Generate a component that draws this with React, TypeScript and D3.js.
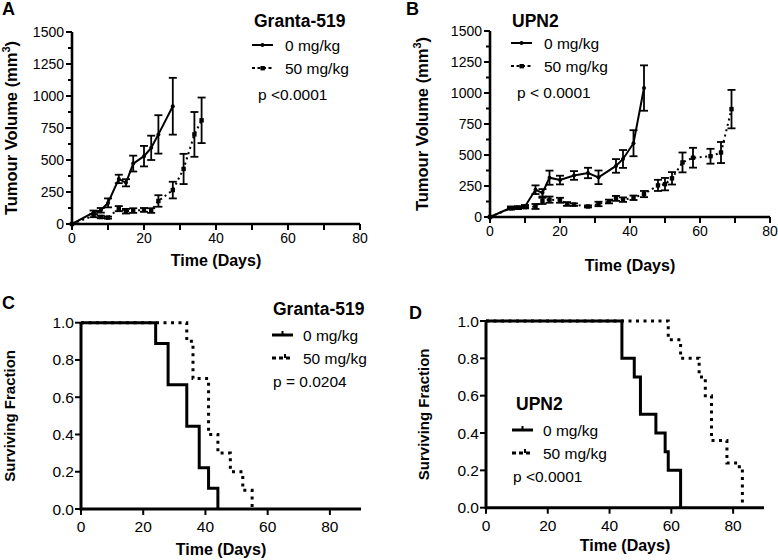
import React from "react";
import * as d3 from "d3";

// ---------- Data ----------
// Panel A: Granta-519 tumour volume
const gDays0 = [0, 6, 8, 10, 13, 15, 17, 20, 22, 24, 28];
const gMean0 = [0, 90, 107, 165, 352, 322, 472, 530, 595, 700, 920];
const gErr0 = [0, 15, 18, 35, 33, 28, 62, 80, 95, 150, 222];
const gDays50 = [0, 6, 8, 10, 13, 15, 17, 20, 22, 24, 28, 31, 34, 36];
const gMean50 = [0, 65, 55, 50, 120, 100, 105, 110, 105, 180, 265, 430, 700, 810];
const gErr50 = [0, 12, 10, 8, 20, 18, 18, 15, 18, 45, 65, 118, 175, 178];

// Panel B: UPN2 tumour volume
const uDays0 = [0, 6, 8, 10, 13, 15, 17, 20, 24, 28, 31, 36, 38, 41, 44];
const uMean0 = [0, 75, 75, 85, 220, 195, 317, 298, 335, 355, 320, 412, 468, 595, 1040];
const uErr0 = [0, 10, 10, 12, 35, 30, 57, 35, 35, 42, 55, 55, 72, 105, 183];
const uDays50 = [0, 6, 8, 10, 13, 15, 17, 20, 22, 24, 28, 31, 34, 36, 38, 41, 44, 48, 50, 52, 55, 58, 63, 66, 69];
const uMean50 = [0, 70, 75, 80, 85, 130, 140, 135, 105, 100, 85, 105, 125, 150, 140, 155, 185, 255, 265, 312, 440, 478, 490, 520, 870];
const uErr50 = [0, 10, 10, 10, 20, 25, 25, 20, 15, 10, 8, 18, 15, 20, 18, 18, 25, 45, 50, 50, 80, 80, 60, 85, 155];

// Panel C: Granta-519 survival
const cTimes0 = [0, 24, 28, 34, 38, 41, 44];
const cSurv0 = [1, 0.889, 0.667, 0.444, 0.222, 0.111, 0];
const cTimes50 = [0, 34, 36, 41, 44, 48, 52, 55];
const cSurv50 = [1, 0.9, 0.7, 0.4, 0.3, 0.2, 0.1, 0];

// Panel D: UPN2 survival
const dTimes0 = [0, 44, 48, 50, 55, 58, 59, 63];
const dSurv0 = [1, 0.8, 0.7, 0.5, 0.4, 0.3, 0.2, 0];
const dTimes50 = [0, 59, 63, 69, 71, 73, 78, 82, 83];
const dSurv50 = [1, 0.9, 0.8, 0.7, 0.6, 0.36, 0.24, 0.22, 0];

const volTicks = [0, 250, 500, 750, 1000, 1250, 1500];
const volMinor = [125, 375, 625, 875, 1125, 1375];
const dayTicksA = [0, 20, 40, 60, 80];
const dayMinorA = [10, 30, 50, 70];
const survTicks = [0, 0.2, 0.4, 0.6, 0.8, 1.0];
const dayTicksC = [0, 20, 40, 60, 80];

const legend0 = "0 mg/kg";
const legend50 = "50 mg/kg";

const FONT = "Arial, 'Liberation Sans', Helvetica, sans-serif";

type TumourProps = {
  x0: number; x1: number; y0: number; y1: number;
  d0: number[]; m0: number[]; e0: number[];
  d50: number[]; m50: number[]; e50: number[];
  yTitleX: number; xTitleY: number;
};

function TumourPanel(p: TumourProps) {
  const x = d3.scaleLinear().domain([0, 80]).range([p.x0, p.x1]);
  const y = d3.scaleLinear().domain([0, 1500]).range([p.y0, p.y1]);
  const line = d3.line<[number, number]>().x(d => x(d[0])).y(d => y(d[1]));
  const pts0 = p.d0.map((d, i) => [d, p.m0[i]] as [number, number]);
  const pts50 = p.d50.map((d, i) => [d, p.m50[i]] as [number, number]);
  const errBars = (days: number[], m: number[], e: number[], key: string) =>
    days.map((d, i) =>
      e[i] > 0 ? (
        <g key={key + i} stroke="#000" strokeWidth={1.8}>
          <line x1={x(d)} x2={x(d)} y1={y(m[i] - e[i])} y2={y(m[i] + e[i])} />
          <line x1={x(d) - 4} x2={x(d) + 4} y1={y(m[i] + e[i])} y2={y(m[i] + e[i])} />
          <line x1={x(d) - 4} x2={x(d) + 4} y1={y(m[i] - e[i])} y2={y(m[i] - e[i])} />
        </g>
      ) : null
    );
  const cy = (p.y0 + p.y1) / 2;
  return (
    <g>
      <path d={line(pts50) || ""} fill="none" stroke="#000" strokeWidth={2} strokeDasharray="2,3.5" />
      <path d={line(pts0) || ""} fill="none" stroke="#000" strokeWidth={2} />
      {errBars(p.d50, p.m50, p.e50, "b")}
      {errBars(p.d0, p.m0, p.e0, "a")}
      {pts50.map((d, i) => (
        <rect key={"s" + i} x={x(d[0]) - 2.2} y={y(d[1]) - 2.2} width={4.4} height={4.4} fill="#000" />
      ))}
      {pts0.map((d, i) => (
        <circle key={"c" + i} cx={x(d[0])} cy={y(d[1])} r={2} fill="#000" />
      ))}
      {/* axes */}
      <line x1={p.x0} x2={p.x1} y1={p.y0} y2={p.y0} stroke="#000" strokeWidth={2.6} />
      <line x1={p.x0} x2={p.x0} y1={p.y0 + 1.3} y2={p.y1} stroke="#000" strokeWidth={2.6} />
      {volTicks.map(t => (
        <g key={"yt" + t}>
          <line x1={p.x0 - 6} x2={p.x0} y1={y(t)} y2={y(t)} stroke="#000" strokeWidth={2} />
          <text x={p.x0 - 8} y={y(t) + 5} textAnchor="end" fontSize={14} fontFamily={FONT}>{t}</text>
        </g>
      ))}
      {volMinor.map(t => (
        <line key={"ym" + t} x1={p.x0 - 4} x2={p.x0} y1={y(t)} y2={y(t)} stroke="#000" strokeWidth={2} />
      ))}
      {dayTicksA.map(t => (
        <g key={"xt" + t}>
          <line x1={x(t)} x2={x(t)} y1={p.y0} y2={p.y0 + 6} stroke="#000" strokeWidth={2} />
          <text x={x(t)} y={p.y0 + 19} textAnchor="middle" fontSize={14} fontFamily={FONT}>{t}</text>
        </g>
      ))}
      {dayMinorA.map(t => (
        <line key={"xm" + t} x1={x(t)} x2={x(t)} y1={p.y0} y2={p.y0 + 6} stroke="#000" strokeWidth={2} />
      ))}
      <text transform={`translate(${p.yTitleX},${cy}) rotate(-90)`} textAnchor="middle" fontSize={16.5} fontWeight="bold" fontFamily={FONT}>
        Tumour Volume (mm<tspan dy={-7} fontSize={11}>3</tspan><tspan dy={7}>)</tspan>
      </text>
      <text x={(p.x0 + p.x1) / 2} y={p.xTitleY} textAnchor="middle" fontSize={16} fontWeight="bold" fontFamily={FONT}>Time (Days)</text>
    </g>
  );
}

type SurvProps = {
  x0: number; x1: number; y0: number; y1: number;
  t0: number[]; s0: number[]; t50: number[]; s50: number[];
  yTitleX: number; xTitleY: number;
};

function SurvPanel(p: SurvProps) {
  const x = d3.scaleLinear().domain([0, 90]).range([p.x0, p.x1]);
  const y = d3.scaleLinear().domain([0, 1]).range([p.y0, p.y1]);
  const line = d3.line<[number, number]>().x(d => x(d[0])).y(d => y(d[1])).curve(d3.curveStepAfter);
  const pts0 = p.t0.map((t, i) => [t, p.s0[i]] as [number, number]);
  const pts50 = p.t50.map((t, i) => [t, p.s50[i]] as [number, number]);
  const cy = (p.y0 + p.y1) / 2;
  return (
    <g>
      <path d={line(pts50) || ""} fill="none" stroke="#000" strokeWidth={3} strokeDasharray="3,4.5" />
      <path d={line(pts0) || ""} fill="none" stroke="#000" strokeWidth={3} />
      <line x1={p.x0} x2={p.x1} y1={p.y0} y2={p.y0} stroke="#000" strokeWidth={3} />
      <line x1={p.x0} x2={p.x0} y1={p.y0 + 1.5} y2={p.y1} stroke="#000" strokeWidth={3} />
      {survTicks.map(t => (
        <g key={"yt" + t}>
          <line x1={p.x0 - 6} x2={p.x0} y1={y(t)} y2={y(t)} stroke="#000" strokeWidth={2} />
          <text x={p.x0 - 7} y={y(t) + 5.5} textAnchor="end" fontSize={15.5} fontFamily={FONT}>{t.toFixed(1)}</text>
        </g>
      ))}
      {dayTicksC.map(t => (
        <g key={"xt" + t}>
          <line x1={x(t)} x2={x(t)} y1={p.y0} y2={p.y0 + 6} stroke="#000" strokeWidth={2} />
          <text x={x(t)} y={p.y0 + 23} textAnchor="middle" fontSize={15.5} fontFamily={FONT}>{t}</text>
        </g>
      ))}
      <text transform={`translate(${p.yTitleX},${cy}) rotate(-90)`} textAnchor="middle" fontSize={15} fontWeight="bold" fontFamily={FONT}>
        Surviving Fraction
      </text>
      <text x={(p.x0 + p.x1) / 2} y={p.xTitleY} textAnchor="middle" fontSize={16} fontWeight="bold" fontFamily={FONT}>Time (Days)</text>
    </g>
  );
}

function TumourLegend({ x, y, title, p, tx, ty }: { x: number; y: number; title: string; p: string; tx: number; ty: number }) {
  return (
    <g fontFamily={FONT}>
      <text x={tx} y={ty} fontSize={17.5} fontWeight="bold">{title}</text>
      <line x1={x} x2={x + 21} y1={y} y2={y} stroke="#000" strokeWidth={2} />
      <circle cx={x + 10.5} cy={y} r={2} fill="#000" />
      <text x={x + 33} y={y + 5.5} fontSize={15.5}>{legend0}</text>
      <line x1={x} x2={x + 21} y1={y + 23} y2={y + 23} stroke="#000" strokeWidth={2} strokeDasharray="3,2.5" />
      <rect x={x + 8.5} y={y + 21} width={4.4} height={4.4} fill="#000" />
      <text x={x + 33} y={y + 28.5} fontSize={15.5}>{legend50}</text>
      <text x={x + 6} y={y + 55} fontSize={15.5}>{p}</text>
    </g>
  );
}

function SurvLegend({ x, y, title, p, tx, ty, px }: { x: number; y: number; title: string; p: string; tx: number; ty: number; px: number }) {
  return (
    <g fontFamily={FONT}>
      <text x={tx} y={ty} fontSize={17.5} fontWeight="bold">{title}</text>
      <line x1={x} x2={x + 21} y1={y} y2={y} stroke="#000" strokeWidth={3} />
      <line x1={x + 10.5} x2={x + 10.5} y1={y} y2={y - 4} stroke="#000" strokeWidth={2} />
      <text x={x + 31} y={y + 6} fontSize={15.5}>{legend0}</text>
      <line x1={x} x2={x + 21} y1={y + 23} y2={y + 23} stroke="#000" strokeWidth={3} strokeDasharray="4,3" />
      <line x1={x + 13} x2={x + 13} y1={y + 23} y2={y + 19} stroke="#000" strokeWidth={2} />
      <text x={x + 31} y={y + 29} fontSize={15.5}>{legend50}</text>
      <text x={px} y={y + 52} fontSize={15.5}>{p}</text>
    </g>
  );
}

export default function App() {
  return (
    <svg width={778} height={560} style={{ position: "absolute", left: 0, top: 0, background: "#fff" }}>
      <rect width={778} height={560} fill="#fff" />
      <g fontFamily={FONT} fontWeight="bold" fontSize={18}>
        <text x={2} y={15}>A</text>
        <text x={406} y={15}>B</text>
        <text x={2} y={309}>C</text>
        <text x={409} y={319}>D</text>
      </g>
      <TumourPanel x0={72} x1={360} y0={224} y1={32} d0={gDays0} m0={gMean0} e0={gErr0} d50={gDays50} m50={gMean50} e50={gErr50} yTitleX={17} xTitleY={266} />
      <TumourLegend x={252} y={45} title="Granta-519" tx={254} ty={27} p="p <0.0001" />
      <TumourPanel x0={490} x1={770} y0={217} y1={31} d0={uDays0} m0={uMean0} e0={uErr0} d50={uDays50} m50={uMean50} e50={uErr50} yTitleX={428} xTitleY={271} />
      <TumourLegend x={511} y={43} title="UPN2" tx={512} ty={27} p="p < 0.0001" />
      <SurvPanel x0={81} x1={361} y0={509} y1={322.7} t0={cTimes0} s0={cSurv0} t50={cTimes50} s50={cSurv50} yTitleX={15} xTitleY={555} />
      <SurvLegend x={272} y={335} title="Granta-519" tx={273} ty={315} p="p = 0.0204" px={273} />
      <SurvPanel x0={486} x1={764} y0={507.7} y1={321} t0={dTimes0} s0={dSurv0} t50={dTimes50} s50={dSurv50} yTitleX={429} xTitleY={551} />
      <SurvLegend x={512} y={430} title="UPN2" tx={516} ty={410} p="p <0.0001" px={513} />
    </svg>
  );
}
